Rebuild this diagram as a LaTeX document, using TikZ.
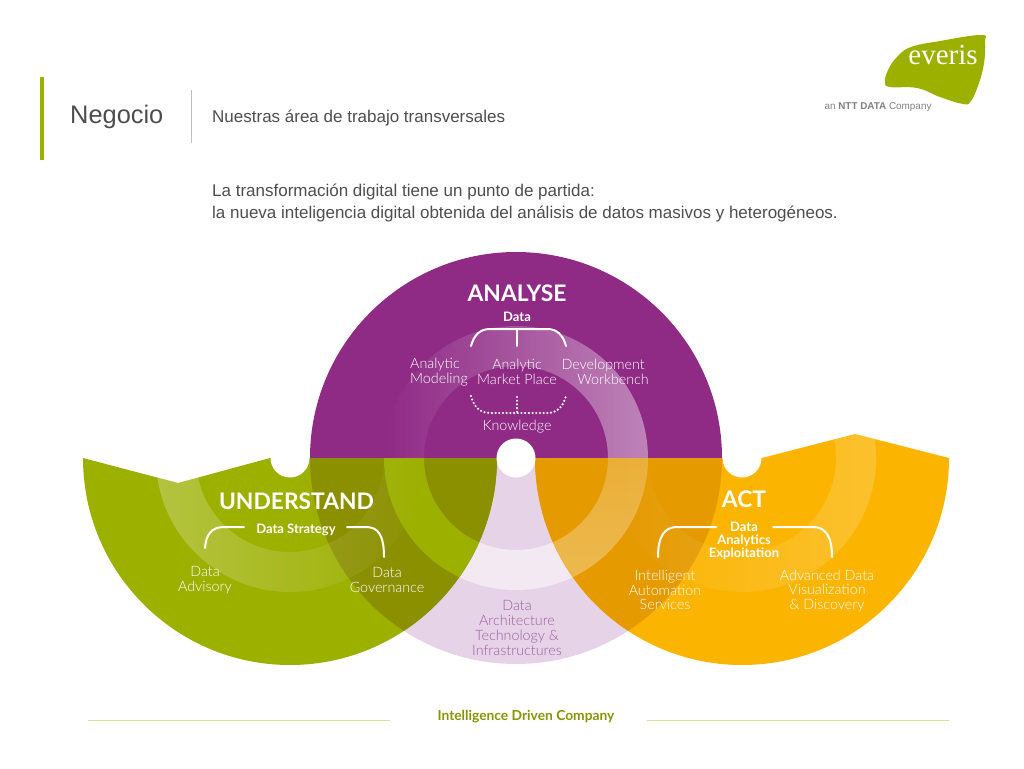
\documentclass[tikz,border=0pt]{standalone}
\usepackage{fontspec}
\setmainfont{Liberation Sans}
\newfontfamily\latofont{Lato}
\newfontfamily\lightfont{Lato Light}
\newfontfamily\serifont{Liberation Serif}
\usepackage{xcolor}
\usepackage{tikz}
\usetikzlibrary{fadings}
\definecolor{plum}{HTML}{8F2A85}
\definecolor{plumpale}{HTML}{E6D3E8}
\definecolor{plumtext}{HTML}{9C5FA0}
\definecolor{leaf}{HTML}{9CB000}
\definecolor{olive}{HTML}{8B9000}
\definecolor{amber}{HTML}{FBB400}
\definecolor{amberdark}{HTML}{E59A00}
\definecolor{inkgray}{HTML}{4D4D4D}
\tikzfading[name=fadeeast, left color=transparent!100, right color=transparent!0]
\tikzfading[name=fadewest, left color=transparent!0, right color=transparent!100]
\tikzfading[name=fadesouth, top color=transparent!70, bottom color=transparent!0]
\newcommand{\halfplum}{(310,458) arc[start angle=180,end angle=360,radius=206] -- cycle}
\newcommand{\lowplum}{(310,458) arc[start angle=180,end angle=0,radius=206] -- cycle}
\newcommand{\leafblob}{(497,458) arc[start angle=0,end angle=180,radius=207] -- (178,483) -- (270,458) -- cycle}
\newcommand{\amberblob}{(949,458) arc[start angle=0,end angle=180,radius=207] -- (762,458) -- (855,434) -- cycle}
\tikzset{
  band/.style={even odd rule},
  head/.style={font=\latofont\bfseries\fontsize{22.8}{26}\selectfont,text=white,inner sep=0pt},
  boss/.style={font=\latofont\bfseries\fontsize{13}{13}\selectfont,text=white,inner sep=0pt,align=center},
  leafnote/.style={font=\lightfont\fontsize{14.3}{14.6}\selectfont,text=white,inner sep=0pt,align=center},
  brace/.style={draw=white,line width=2pt,line cap=round},
  dots/.style={draw=white,line width=2.4pt,line cap=round,dash pattern=on 0pt off 3.7pt},
  slide/.style={font=\fontsize{17}{21.5}\selectfont,text=inkgray,inner sep=0pt,anchor=west,align=left},
}
\begin{document}
\begin{tikzpicture}[x=1pt,y=-1pt,line join=round]
  \useasboundingbox (0,0) rectangle (1024,768);
  % header
  \fill[leaf] (39.5,77) rectangle (44,160);
  \draw[gray!50,line width=0.6pt] (191.5,90) -- (191.5,143);
  \node[slide,font=\fontsize{25.4}{28}\selectfont] (negocio) at (70,116.5) {Negocio};
  \node[slide] (subtitle) at (212,118) {Nuestras área de trabajo transversales};
  \node[slide] (lede) at (212,203) {La transformación digital tiene un punto de partida:\\la nueva inteligencia digital obtenida del análisis de datos masivos y heterogéneos.};
  % logo
  \fill[leaf] plot[smooth cycle,tension=.7] coordinates {(981,35) (940,41) (911,47) (897,57) (888,70) (885,82) (890,87) (917,88) (940,97) (963,104) (971,101) (979,83) (984,63) (985,42)};
  \node[font=\serifont\fontsize{29}{30}\selectfont,text=white,inner sep=0pt,anchor=base] (everis) at (943,64.5) {everis};
  \node[font=\fontsize{9.9}{10}\selectfont,text=gray,inner sep=0pt] (ntt) at (878,107.5) {an \textbf{NTT DATA} Company};
  % analyse half
  \fill[plum] \halfplum;
  \fill[plumpale] \lowplum;
  \begin{scope}
    \clip (300,250) rectangle (730,458);
    \fill[white,fill opacity=.42,band,path fading=fadeeast] (516,458) circle[radius=132] (516,458) circle[radius=92];
  \end{scope}
  \begin{scope}
    \clip (300,458) rectangle (730,670);
    \fill[white,fill opacity=.5,band] (516,458) circle[radius=132] (516,458) circle[radius=92];
  \end{scope}
  % understand half
  \fill[leaf] \leafblob;
  \begin{scope}
    \clip \leafblob;
    \fill[olive] (516,458) circle[radius=206];
    \fill[leaf,band] (516,458) circle[radius=132] (516,458) circle[radius=92];
    \fill[white,fill opacity=.25,band,path fading=fadewest] (290,458) circle[radius=134] (290,458) circle[radius=94];
  \end{scope}
  % act half
  \fill[amber] \amberblob;
  \begin{scope}
    \clip \amberblob;
    \fill[amberdark] (516,458) circle[radius=206];
    \fill[white,fill opacity=.32,band,path fading=fadesouth] (516,458) circle[radius=132] (516,458) circle[radius=92];
    \fill[white,fill opacity=.18,band,path fading=fadeeast] (742,458) circle[radius=134] (742,458) circle[radius=94];
  \end{scope}
  % notches
  \fill[white] (290,458) circle[radius=19.5];
  \fill[white] (516,458) circle[radius=19.5];
  \fill[white] (742,458) circle[radius=19.5];
  % analyse texts
  \node[head] (analyse) at (517,293) {ANALYSE};
  \node[boss] (data) at (517,317) {Data};
  \node[leafnote] (market) at (517,372) {Analytic\\Market Place};
  \node[leafnote,anchor=west,align=left] (modeling) at (410,372) {Analytic\\Modeling};
  \node[leafnote,anchor=east,align=right] (workbench) at (649,372) {Development\hspace*{4pt}\\Workbench};
  \node[leafnote] (knowledge) at (517,427) {Knowledge};
  \coordinate (dataL) at (471,346);
  \coordinate (dataR) at (566,346);
  \coordinate (dataM) at (517,346);
  \coordinate (knowL) at (471,396);
  \coordinate (knowR) at (566,396);
  \coordinate (knowM) at (517,397);
  \draw[brace] (dataL) .. controls (474,335) and (480,329) .. (490,329) -- (547,329) .. controls (557,329) and (563,335) .. (dataR);
  \draw[brace] (517,329) -- (dataM);
  \draw[dots] (knowL) .. controls (474,407) and (480,413) .. (490,413) -- (547,413) .. controls (557,413) and (563,407) .. (knowR);
  \draw[dots] (knowM) -- (517,413);
  % understand texts
  \node[head] (understand) at (296.5,501) {UNDERSTAND};
  \node[boss] (strategy) at (296,530) {Data Strategy};
  \node[leafnote] (advisory) at (205,580) {Data\\Advisory};
  \node[leafnote] (governance) at (387,580) {Data\\Governance};
  \coordinate (stratL) at (205,548);
  \coordinate (stratR) at (384,557);
  \draw[brace] (stratL) .. controls (206,534) and (212,527) .. (224,527) -- (244,527);
  \draw[brace] (347,527) -- (366,527) .. controls (378,527) and (384,535) .. (stratR);
  % act texts
  \node[head] (act) at (744,499) {ACT};
  \node[boss] (exploit) at (744,541) {Data\\Analytics\\Exploitation};
  \node[leafnote] (automation) at (665,590) {Intelligent\\Automation\\Services};
  \node[leafnote] (discovery) at (827,591) {Advanced Data\\Visualization\\\& Discovery};
  \coordinate (exploitL) at (658,557);
  \coordinate (exploitR) at (832,557);
  \draw[brace] (exploitL) .. controls (658,537) and (664,527) .. (677,527) -- (716,527);
  \draw[brace] (773,527) -- (813,527) .. controls (826,527) and (832,537) .. (exploitR);
  % data architecture
  \node[leafnote,text=plumtext,font=\lightfont\fontsize{14.3}{15}\selectfont] (infra) at (517,627.5) {Data\\Architecture\\Technology \&\\Infrastructures};
  % footer
  \node[font=\latofont\bfseries\fontsize{13.8}{15}\selectfont,text=leaf!85!black,inner sep=0pt] (company) at (526,717) {Intelligence Driven Company};
  \draw[leaf!40,line width=0.8pt] (88,720) -- (390,720);
  \draw[leaf!40,line width=0.8pt] (647,720) -- (949,720);
\end{tikzpicture}
\end{document}
